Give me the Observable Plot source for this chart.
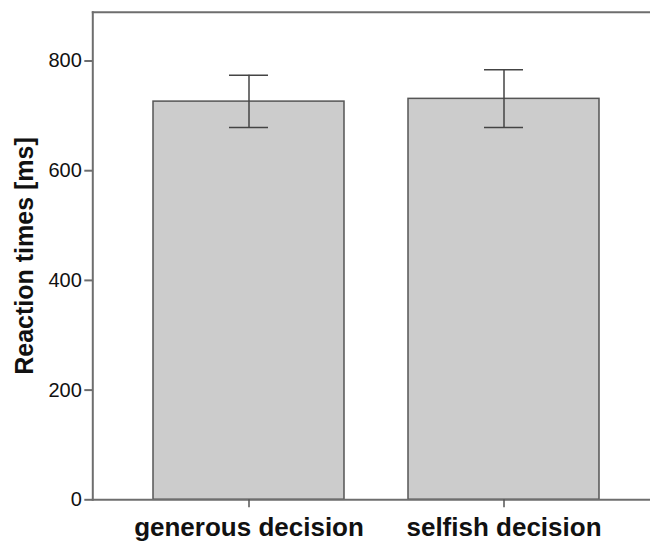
<!DOCTYPE html>
<html>
<head>
<meta charset="utf-8">
<script src="https://cdn.jsdelivr.net/npm/d3@7"></script>
<script src="https://cdn.jsdelivr.net/npm/@observablehq/plot@0.6"></script>
<style>
  html, body { margin: 0; padding: 0; background: #fff; }
  #chart svg { display: block; overflow: hidden; }
</style>
</head>
<body>
<div id="chart"></div>
<script>
const categories = ["generous decision", "selfish decision"];
const means = [726, 731];
const lowerCI = [679, 679];
const upperCI = [774, 784];
const yTicks = [0, 200, 400, 600, 800];
const yTitle = "Reaction times [ms]";

(function () {
  const data = categories.map((c, i) => ({cat: c, mean: means[i], lo: lowerCI[i], hi: upperCI[i]}));

  const W = 650, H = 542;
  const mLeft = 92.3, mTop = 11.7, yBottom = 499.3;
  const font = "'Liberation Sans', Arial, Helvetica, sans-serif";
  const axisGray = "#6e6e6e";

  const chart = Plot.plot({
    width: W,
    height: H,
    marginLeft: mLeft,
    marginRight: 0,
    marginTop: mTop,
    marginBottom: H - yBottom,
    style: {fontFamily: font, background: "#fff", color: "#111"},
    x: {domain: categories, range: [mLeft, 660.5], paddingInner: 0.25, paddingOuter: 0.236, axis: null},
    y: {domain: [0, 889], range: [yBottom, mTop], axis: null},
    marks: [
      Plot.frame({anchor: "top", stroke: axisGray, strokeWidth: 2}),
      Plot.barY(data, {x: "cat", y: "mean", fill: "#cccccc", stroke: "#555", strokeWidth: 1.5}),
      Plot.ruleX(data, {x: "cat", y1: "lo", y2: "hi", stroke: "#444", strokeWidth: 1.5}),
      Plot.tickY(data, {x: "cat", y: "lo", stroke: "#444", strokeWidth: 1.5, insetLeft: 76, insetRight: 76}),
      Plot.tickY(data, {x: "cat", y: "hi", stroke: "#444", strokeWidth: 1.5, insetLeft: 76, insetRight: 76}),
      Plot.frame({anchor: "bottom", stroke: axisGray, strokeWidth: 2}),
      Plot.frame({anchor: "left", stroke: axisGray, strokeWidth: 2}),
      Plot.axisY({ticks: yTicks, tickSize: 8, tickPadding: 3, fontSize: 20, stroke: axisGray, strokeWidth: 2, label: null, fill: "#111"}),
      Plot.axisX({tickSize: 8, tickPadding: 10, fontSize: 26, fontWeight: "bold", stroke: "#555", strokeWidth: 1.5, label: null, fill: "#111"}),
      Plot.text([yTitle], {frameAnchor: "left", rotate: -90, dx: -68, fontSize: 25, fontWeight: "bold", fill: "#111", textAnchor: "middle", lineAnchor: "middle"})
    ]
  });
  document.getElementById("chart").append(chart);
})();
</script>
</body>
</html>
